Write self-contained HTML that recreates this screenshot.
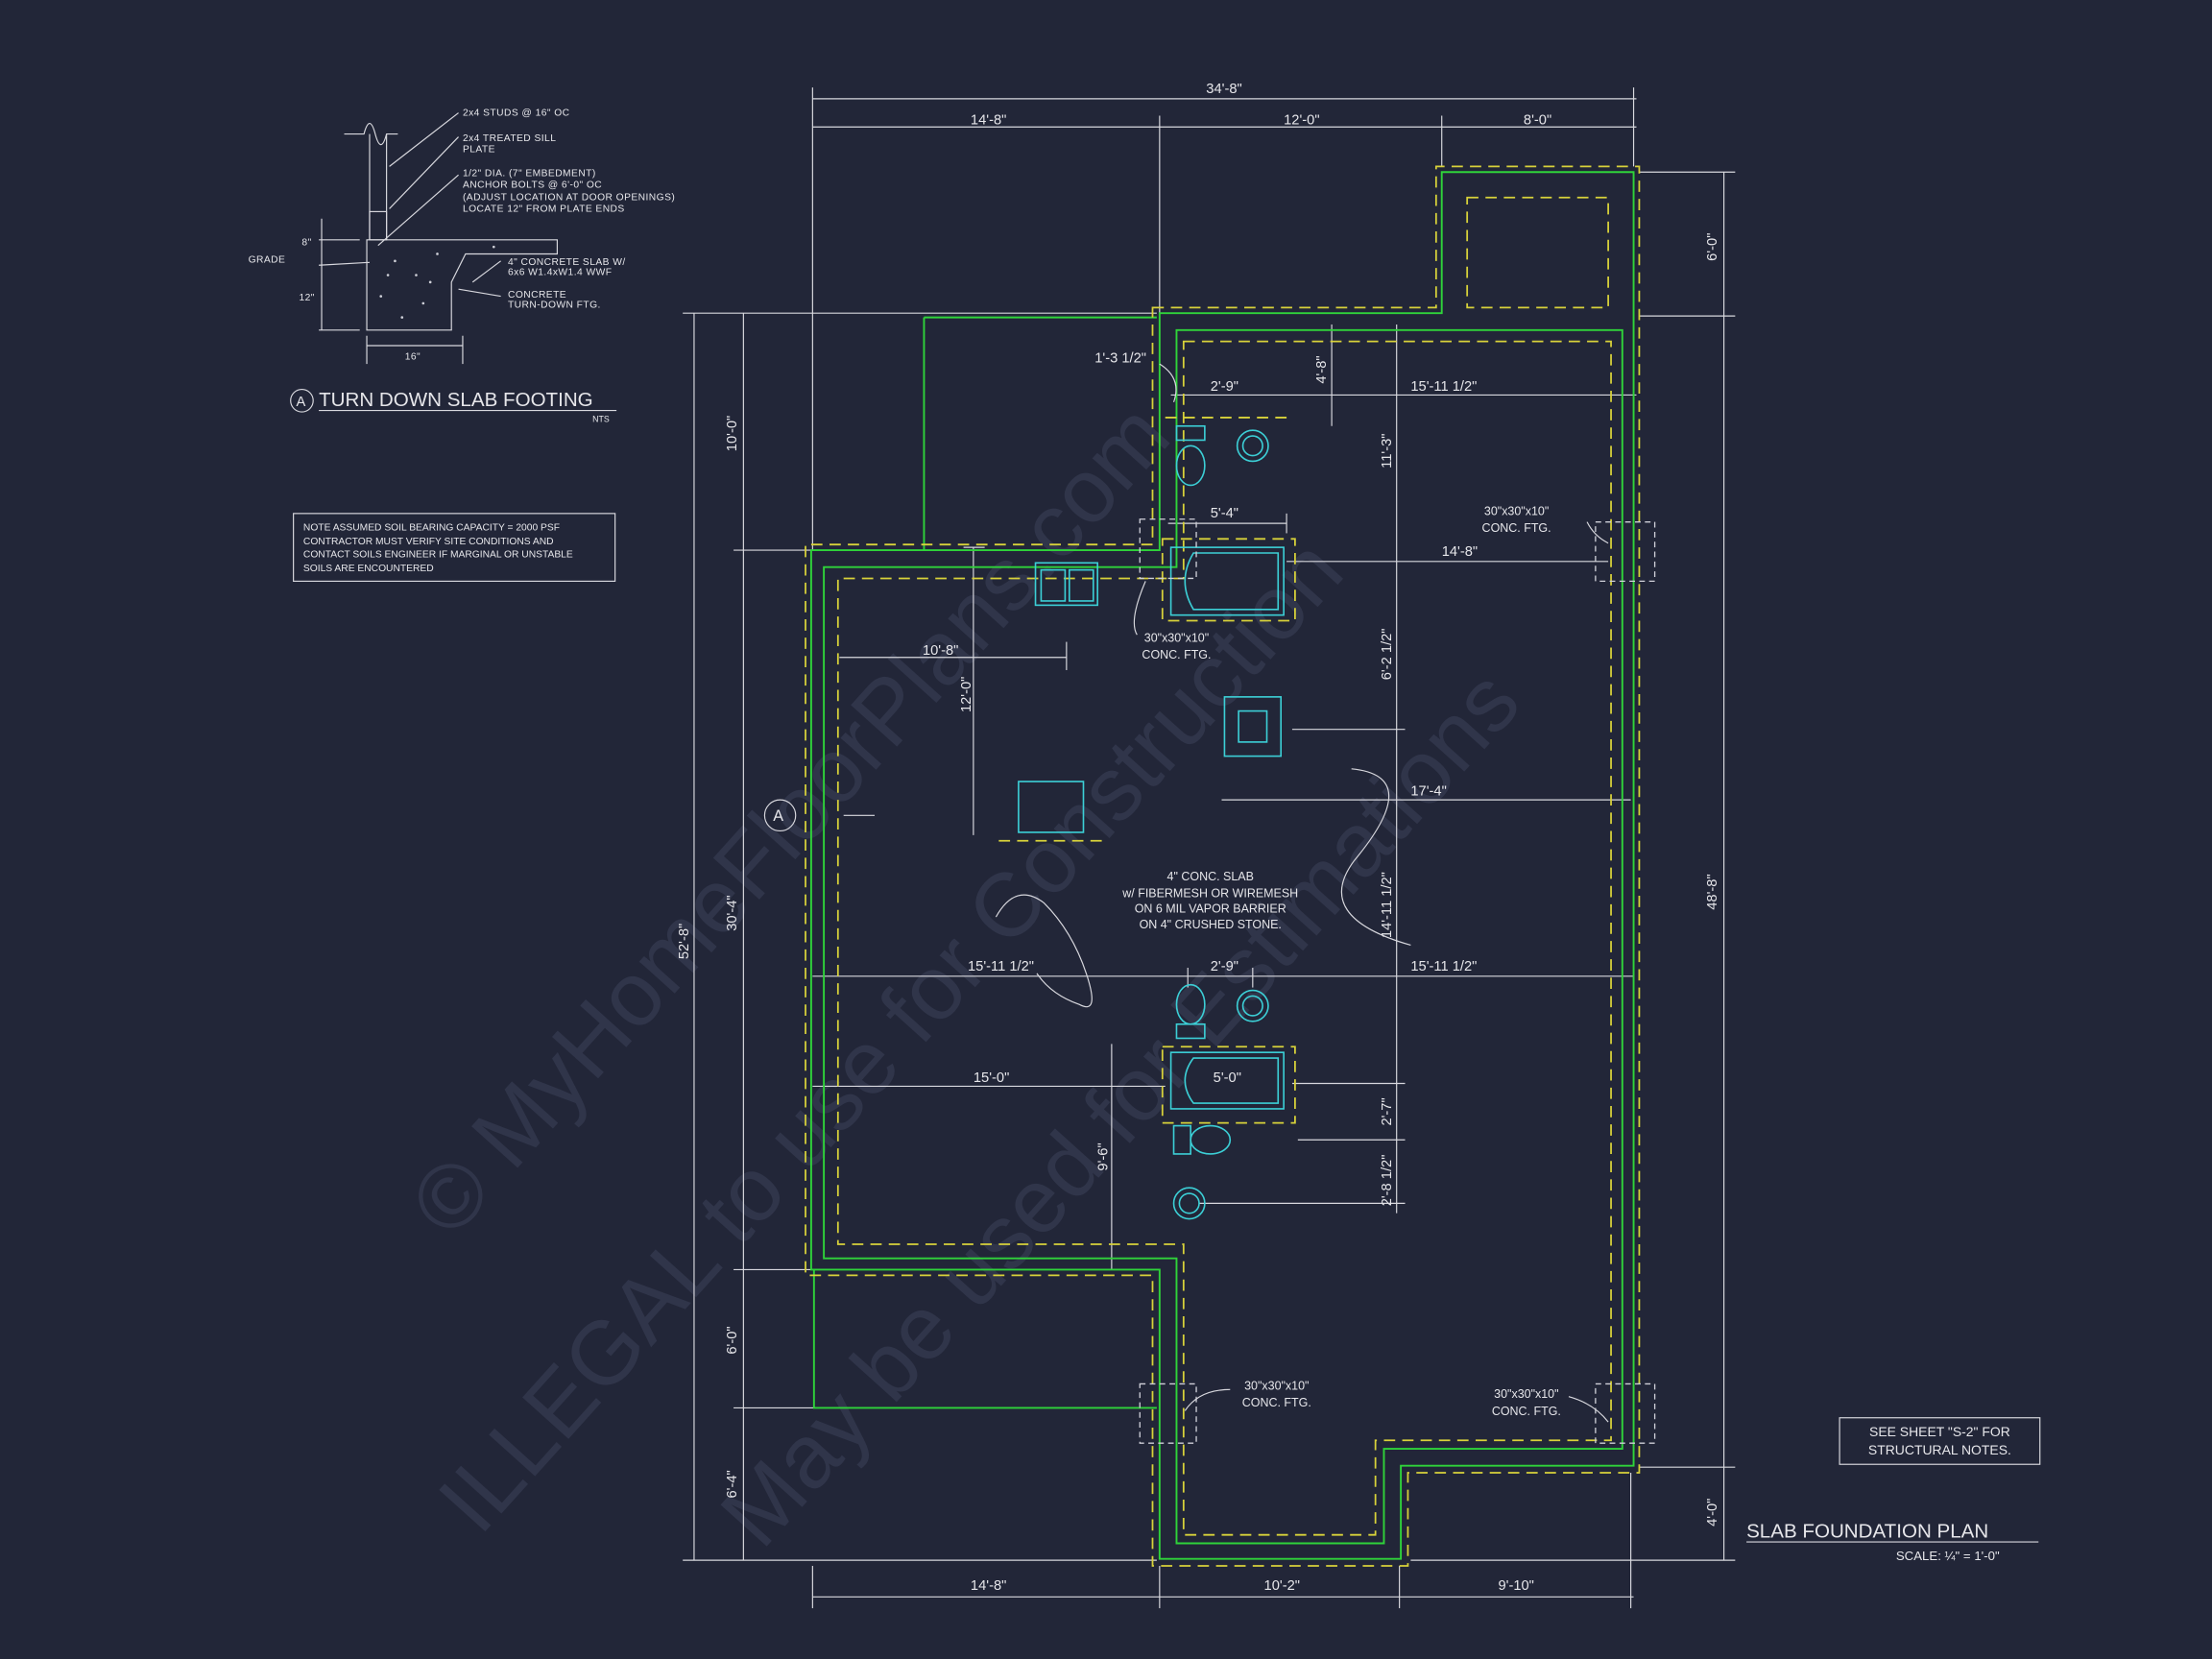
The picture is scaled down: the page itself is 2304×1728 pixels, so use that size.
<!DOCTYPE html>
<html><head><meta charset="utf-8"><style>
html,body{margin:0;padding:0;background:#222638;}
svg{display:block}
text{font-family:"Liberation Sans",sans-serif;fill:#e6e6ea}
.d{stroke:#d8d8de;stroke-width:0.8;fill:none}
.g{stroke:#2fd33a;stroke-width:1.3;fill:none}
.y{stroke:#d8d23a;stroke-width:1.2;fill:none;stroke-dasharray:8 5}
.c{stroke:#3ccfd6;stroke-width:1.1;fill:none}
.f{stroke:#cfd0d8;stroke-width:0.9;fill:none;stroke-dasharray:4 3}
.dim{font-family:"Liberation Serif",serif;font-size:10px}
.n{font-size:8.5px;letter-spacing:0.3px}
</style></head><body>
<svg width="2304" height="1728" viewBox="0 0 1568 1176" xmlns="http://www.w3.org/2000/svg">
<rect width="1568" height="1176" fill="#222638"/>
<g font-size="64" font-family="Liberation Serif,serif">
<text x="0" y="0" transform="translate(320,880) rotate(-48)" style="fill:#30354a">© MyHomeFloorPlans.com</text>
<text x="0" y="0" transform="translate(340,1090) rotate(-48)" style="fill:#30354a">ILLEGAL to use for Construction</text>
<text x="0" y="0" transform="translate(540,1100) rotate(-48)" style="fill:#30354a">May be used for Estimations</text>
</g>

<!-- detail A -->
<g class="d" stroke-width="1">
<path d="M244 95 H258 Q262 80 266 95 Q270 110 274 95 H282"/>
<line x1="262" y1="95" x2="262" y2="170"/><line x1="274" y1="95" x2="274" y2="170"/>
<rect x="262" y="150" width="12" height="20"/>
<path d="M260 170 H395 V180 H330 L320 200 V234 H260 Z"/>
<line x1="226" y1="170" x2="255" y2="170"/><line x1="226" y1="234" x2="255" y2="234"/>
<line x1="228" y1="155" x2="228" y2="234"/>
<line x1="226" y1="188" x2="262" y2="186"/>
<line x1="260" y1="245" x2="328" y2="245"/><line x1="260" y1="238" x2="260" y2="258"/><line x1="328" y1="238" x2="328" y2="258"/>
<path d="M325 80 L276 118 M325 97 L276 148 M325 124 L268 174 M355 185 L335 200 M355 210 L325 205"/>
</g>
<g fill="#cfd0d8"><circle cx="280" cy="185" r="0.9"/><circle cx="295" cy="195" r="0.9"/><circle cx="270" cy="210" r="0.9"/><circle cx="300" cy="215" r="0.9"/><circle cx="285" cy="225" r="0.9"/><circle cx="310" cy="180" r="0.9"/><circle cx="350" cy="175" r="0.9"/><circle cx="305" cy="200" r="0.9"/><circle cx="275" cy="195" r="0.9"/></g>
<g class="n">
<text x="328" y="82" font-size="7">2x4 STUDS @ 16" OC</text>
<text x="328" y="100" font-size="7">2x4 TREATED SILL</text><text x="328" y="108" font-size="7">PLATE</text>
<text x="328" y="125" font-size="7">1/2" DIA. (7" EMBEDMENT)</text><text x="328" y="133" font-size="7">ANCHOR BOLTS @ 6'-0" OC</text><text x="328" y="142" font-size="7">(ADJUST LOCATION AT DOOR OPENINGS)</text><text x="328" y="150" font-size="7">LOCATE 12" FROM PLATE ENDS</text>
<text x="360" y="188" font-size="7">4" CONCRETE SLAB W/</text><text x="360" y="195" font-size="7">6x6 W1.4xW1.4 WWF</text>
<text x="360" y="211" font-size="7">CONCRETE</text><text x="360" y="218" font-size="7">TURN-DOWN FTG.</text>
<text x="176" y="186" font-size="7">GRADE</text><text x="214" y="174" font-size="7">8"</text><text x="212" y="213" font-size="7">12"</text><text x="287" y="255" font-size="7">16"</text>
</g>
<circle cx="214" cy="284" r="8" class="d"/><text x="210" y="288" font-size="10">A</text>
<text x="226" y="288" font-size="14">TURN DOWN SLAB FOOTING</text>
<line x1="226" y1="291" x2="437" y2="291" class="d"/>
<text x="420" y="299" font-size="6">NTS</text>
<rect x="208" y="364" width="228" height="48" class="d"/>
<g font-size="7"><text x="215" y="376">NOTE ASSUMED SOIL BEARING CAPACITY = 2000 PSF</text><text x="215" y="386">CONTRACTOR MUST VERIFY SITE CONDITIONS AND</text><text x="215" y="395">CONTACT SOILS ENGINEER IF MARGINAL OR UNSTABLE</text><text x="215" y="405">SOILS ARE ENCOUNTERED</text></g>

<g class="d">
<line x1="576" y1="70" x2="1160" y2="70"/><line x1="576" y1="90" x2="1160" y2="90"/>
<line x1="576" y1="62" x2="576" y2="390"/><line x1="822" y1="82" x2="822" y2="222"/><line x1="1022" y1="82" x2="1022" y2="118"/><line x1="1158" y1="62" x2="1158" y2="118"/>
<line x1="576" y1="1132" x2="1158" y2="1132"/>
<line x1="576" y1="1110" x2="576" y2="1140"/><line x1="822" y1="1110" x2="822" y2="1140"/><line x1="992" y1="1110" x2="992" y2="1140"/><line x1="1156" y1="1044" x2="1156" y2="1140"/>
<line x1="492" y1="222" x2="492" y2="1106"/><line x1="527" y1="222" x2="527" y2="1106"/>
<line x1="484" y1="222" x2="820" y2="222"/><line x1="484" y1="1106" x2="820" y2="1106"/>
<line x1="520" y1="390" x2="575" y2="390"/><line x1="520" y1="900" x2="575" y2="900"/><line x1="520" y1="998" x2="577" y2="998"/>
<line x1="1222" y1="122" x2="1222" y2="1106"/><line x1="1162" y1="122" x2="1230" y2="122"/><line x1="1162" y1="224" x2="1230" y2="224"/><line x1="1162" y1="1040" x2="1230" y2="1040"/><line x1="1000" y1="1106" x2="1230" y2="1106"/>
<line x1="830" y1="280" x2="1160" y2="280"/><line x1="944" y1="230" x2="944" y2="302"/>
<line x1="828" y1="371" x2="912" y2="371"/><line x1="912" y1="364" x2="912" y2="378"/>
<line x1="912" y1="398" x2="1140" y2="398"/>
<line x1="990" y1="230" x2="990" y2="860"/>
<line x1="595" y1="466" x2="756" y2="466"/><line x1="756" y1="455" x2="756" y2="475"/>
<line x1="690" y1="388" x2="690" y2="592"/><line x1="683" y1="388" x2="698" y2="388"/>
<line x1="916" y1="517" x2="996" y2="517"/><line x1="866" y1="567" x2="1156" y2="567"/>
<line x1="576" y1="692" x2="1158" y2="692"/><line x1="842" y1="686" x2="842" y2="700"/><line x1="888" y1="686" x2="888" y2="700"/>
<line x1="576" y1="770" x2="826" y2="770"/><line x1="916" y1="768" x2="996" y2="768"/>
<line x1="788" y1="740" x2="788" y2="900"/>
<line x1="920" y1="808" x2="996" y2="808"/><line x1="850" y1="853" x2="996" y2="853"/>
<line x1="598" y1="578" x2="620" y2="578"/>
<path d="M958 545 Q1010 550 960 610 Q930 650 1000 670"/>
<path d="M706 650 Q720 625 740 640 Q760 660 770 690 Q780 720 765 712 Q745 705 735 690"/>
</g>
<g class="dim">
<text x="855" y="66">34'-8"</text><text x="688" y="88">14'-8"</text><text x="910" y="88">12'-0"</text><text x="1080" y="88">8'-0"</text>
<text x="688" y="1127">14'-8"</text><text x="896" y="1127">10'-2"</text><text x="1062" y="1127">9'-10"</text>
<text x="776" y="257">1'-3 1/2"</text><text x="858" y="277">2'-9"</text><text x="1000" y="277">15'-11 1/2"</text>
<text x="858" y="367">5'-4"</text><text x="1022" y="394">14'-8"</text><text x="654" y="464">10'-8"</text>
<text x="1000" y="564">17'-4"</text><text x="686" y="688">15'-11 1/2"</text><text x="858" y="688">2'-9"</text><text x="1000" y="688">15'-11 1/2"</text>
<text x="690" y="767">15'-0"</text><text x="860" y="767">5'-0"</text>
<g transform="rotate(-90)">
<text x="-320" y="522">10'-0"</text><text x="-660" y="522">30'-4"</text><text x="-960" y="522">6'-0"</text><text x="-1062" y="522">6'-4"</text>
<text x="-680" y="488">52'-8"</text><text x="-185" y="1217">6'-0"</text><text x="-645" y="1217">48'-8"</text><text x="-1082" y="1217">4'-0"</text>
<text x="-272" y="940">4'-8"</text><text x="-332" y="986">11'-3"</text><text x="-482" y="986">6'-2 1/2"</text><text x="-665" y="986">14'-11 1/2"</text>
<text x="-505" y="688">12'-0"</text><text x="-830" y="785">9'-6"</text><text x="-798" y="986">2'-7"</text><text x="-855" y="986">2'-8 1/2"</text>
</g></g>

<path class="g" d="M655 225 H820 M655 225 V390 M577 900 V998 H820"/>
<path class="g" d="M822 222 H1022 V122 H1158 V1039 H993 V1105 H822 V900 H575 V390 H822 Z"/>
<path class="g" d="M834 234 H1150 V1027 H981 V1094 H834 V892 H584 V402 H834 Z"/>
<path class="y" d="M817 218 H1018 V118 H1162 V1044 H998 V1110 H817 V904 H571 V386 H817 Z"/>
<path class="y" d="M839 242 H1142 V1021 H975 V1088 H839 V882 H594 V410 H839 Z"/>
<rect class="y" x="1040" y="140" width="100" height="78"/>
<path class="y" d="M826 296 H912"/>
<rect class="y" x="824" y="382" width="94" height="58"/>
<rect class="y" x="824" y="742" width="94" height="54"/>
<path class="y" d="M708 596 H786"/>

<g class="c">
<rect x="830" y="388" width="80" height="48"/><path d="M870 392 H846 Q834 412 846 432 H906 V392 Z"/>
<rect x="830" y="746" width="80" height="40"/><path d="M868 750 H846 Q834 766 846 782 H906 V750 Z"/>
<ellipse cx="844" cy="330" rx="10" ry="14"/><rect x="834" y="302" width="20" height="10"/>
<circle cx="888" cy="316" r="11"/><circle cx="888" cy="316" r="7"/>
<ellipse cx="844" cy="712" rx="10" ry="14"/><rect x="834" y="726" width="20" height="10"/>
<circle cx="888" cy="713" r="11"/><circle cx="888" cy="713" r="7"/>
<ellipse cx="858" cy="808" rx="14" ry="10"/><rect x="832" y="798" width="12" height="20"/>
<circle cx="843" cy="853" r="11"/><circle cx="843" cy="853" r="7"/>
<rect x="734" y="399" width="44" height="30"/><rect x="738" y="404" width="17" height="22"/><rect x="758" y="404" width="17" height="22"/>
<rect x="868" y="494" width="40" height="42"/><rect x="878" y="504" width="20" height="22"/>
<rect x="722" y="554" width="46" height="36"/>
</g>
<g class="f">
<rect x="808" y="368" width="40" height="42"/><rect x="1131" y="370" width="42" height="42"/>
<rect x="808" y="981" width="40" height="42"/><rect x="1131" y="981" width="42" height="42"/>
</g>
<g class="d"><path d="M812 412 Q800 440 806 450 M872 985 Q850 985 840 1000 M1112 990 Q1130 995 1140 1008 M1125 370 Q1130 380 1140 385 M822 258 Q838 268 832 285"/></g>
<g font-size="8.5" text-anchor="middle">
<text x="834" y="455">30"x30"x10"</text><text x="834" y="467">CONC. FTG.</text>
<text x="905" y="985">30"x30"x10"</text><text x="905" y="997">CONC. FTG.</text>
<text x="1082" y="991">30"x30"x10"</text><text x="1082" y="1003">CONC. FTG.</text>
<text x="1075" y="365">30"x30"x10"</text><text x="1075" y="377">CONC. FTG.</text>
<text x="858" y="624">4" CONC. SLAB</text><text x="858" y="636">w/ FIBERMESH OR WIREMESH</text><text x="858" y="647">ON 6 MIL VAPOR BARRIER</text><text x="858" y="658">ON 4" CRUSHED STONE.</text>
</g>
<circle cx="553" cy="578" r="11" class="d"/><text x="548" y="582" font-size="11">A</text>
<rect x="1304" y="1005" width="142" height="33" class="d"/>
<text x="1375" y="1018" font-size="9.5" text-anchor="middle">SEE SHEET "S-2" FOR</text>
<text x="1375" y="1031" font-size="9.5" text-anchor="middle">STRUCTURAL NOTES.</text>
<text x="1238" y="1090" font-size="14">SLAB FOUNDATION PLAN</text>
<line x1="1238" y1="1093" x2="1445" y2="1093" class="d"/>
<text x="1344" y="1106" font-size="9">SCALE: ¼" = 1'-0"</text>
</svg>
</body></html>
